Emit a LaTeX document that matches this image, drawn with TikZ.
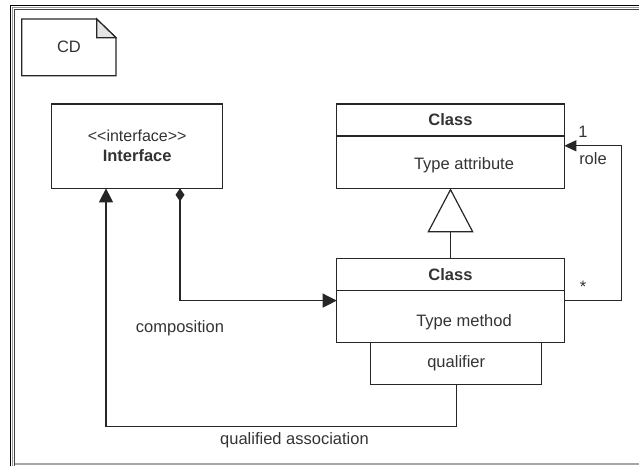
\documentclass[tikz,border=0pt]{standalone}
\usepackage{fontspec}
\setmainfont{Liberation Sans}
\usetikzlibrary{arrows.meta, positioning, calc}

\begin{document}
\begin{tikzpicture}[x=1pt, y=-1pt, line width=1.2pt,
        font=\fontsize{16.5}{20}\selectfont, text=black!80,
        box/.style={draw=black!85, rectangle, inner sep=0pt, outer sep=0pt},
        txt/.style={inner sep=0pt, outer sep=0pt},
        assoc/.style={draw=black!85, -{Triangle[length=14pt, width=14pt]}},
        compose/.style={draw=black!85, {Diamond[length=13pt, width=9pt]}-{Triangle[length=14pt, width=14pt]}},
        inherit/.style={draw=black!85, -{Triangle[open, length=44pt, width=46pt, fill=white]}}]
                \useasboundingbox (0,0) rectangle (639,466);
                % window frame
                \draw[black, line width=1.3pt] (10.5,466) -- (10.5,5.5) -- (639,5.5);
                \draw[black!40, line width=1pt] (12.5,466) -- (12.5,7.5) -- (639,7.5);
                \draw[black!75, line width=1pt] (14.5,466) -- (14.5,9.5) -- (639,9.5);
                \draw[black!35, line width=1.5pt] (14.5,464) -- (639,464);
                % note
                \draw[black!85] (21.7,19) -- (96.7,19) -- (116,37.7) -- (116,75.7) -- (21.7,75.7) -- cycle;
                \filldraw[draw=black!85, fill=black!10] (96.7,19) -- (96.7,37.7) -- (116,37.7) -- cycle;
                \node[txt] (cd) at (69,47.3) {CD};
                % boxes
                \node[box, minimum width=171pt, minimum height=84.3pt] (iface) at (137.2,146.2) {};
                \node[txt, align=center] (ifacet) at (iface.center) {\fontsize{16}{21.5}\selectfont <{}<interface>{}>\\\textbf{Interface}};
                \node[box, minimum width=227.6pt, minimum height=32pt] (cls1h) at (450.5,120) {\textbf{Class}};
                \node[box, minimum width=227.6pt, minimum height=52.3pt, below=0pt of cls1h] (cls1b) {};
                \node[txt] (attr) at ([xshift=13.5pt, yshift=-3.5pt]cls1b.center) {Type attribute};
                \node[box, minimum width=227.6pt, minimum height=32.4pt] (cls2h) at (450.5,274.5) {\textbf{Class}};
                \node[box, minimum width=227.6pt, minimum height=51.6pt, below=0pt of cls2h] (cls2b) {};
                \node[txt] (meth) at ([xshift=13.5pt, yshift=-5.5pt]cls2b.center) {Type method};
                \node[box, minimum width=171pt, minimum height=42.4pt, below=0pt of cls2b, xshift=5.7pt] (qual) {qualifier};
                % connectors
                \coordinate (cmp) at (180,300.6);
                \coordinate (qa) at (106,426.5);
                \coordinate (lpb) at (621.5,300.6);
                \coordinate (lpt) at (621.5,145.8);
                \draw[inherit] (cls2h.north) -- (cls1b.south);
                \draw[compose] (iface.south -| cmp) -- (cmp) -- (cls2b.west |- cmp);
                \draw[assoc] (qual.south) |- (qa) -- (iface.south -| qa);
                \draw[assoc, -{Triangle[length=12pt, width=11pt]}] (cls2b.east |- lpb) -- (lpb) -- (lpt) -- (cls1b.east |- lpt);
                % labels
                \node[txt] (comp) at (180,328) {composition};
                \node[txt] (qassoc) at (294.5,440) {qualified association};
                \node[txt] (one) at (583,131.5) {1};
                \node[txt] (role) at (593,159) {role};
                \node[txt] (many) at (583,287) {*};
        \end{tikzpicture}
\end{document}
